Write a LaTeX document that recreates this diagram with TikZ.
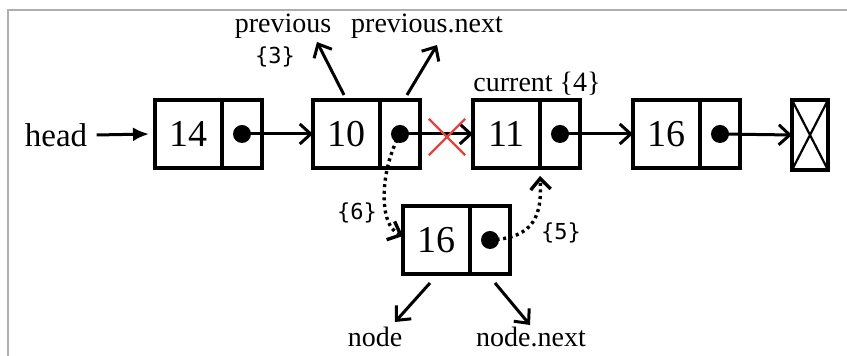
\documentclass[tikz,border=0pt]{standalone}
\usepackage{fontspec}
\setmainfont{Liberation Serif}
\newfontfamily\codefont{DejaVu Sans Mono}
\usetikzlibrary{arrows.meta,positioning,shapes.misc}
\definecolor{cutred}{RGB}{225,70,60}
\definecolor{framegray}{RGB}{175,175,175}

\begin{document}
\begin{tikzpicture}[x=0.5pt, y=-0.5pt,
  val/.style={draw, line width=1.6pt, outer sep=0pt, inner sep=0pt,
              minimum width=33.5pt, minimum height=34pt,
              font=\fontsize{19}{22}\selectfont},
  ptr/.style={draw, line width=1.6pt, outer sep=0pt, inner sep=0pt,
              minimum width=20pt, minimum height=34pt},
  nil/.style={draw, line width=1.6pt, outer sep=0pt, inner sep=0pt,
              minimum width=18pt, minimum height=35pt},
  lbl/.style={font=\fontsize{14}{16}\selectfont, inner sep=1pt},
  num/.style={font=\codefont\fontsize{11}{13}\selectfont, inner sep=1pt},
  arr/.style={-{Straight Barb[length=5.5pt,width=10pt]}, line width=1.5pt},
  dotarr/.style={-{Straight Barb[length=5.5pt,width=10pt]}, line width=1.7pt,
                 dash pattern=on 1.5pt off 1.8pt},
  dot/.style={circle, fill=black, minimum size=9pt, inner sep=0pt}
]
\useasboundingbox (0,0) rectangle (847,356);
\draw[framegray, line width=0.8pt] (847,10) -- (8,10) -- (8,356);

% main list
\node[val] (v14) at (188.5,134) {14};
\node[ptr, right=0pt of v14] (p14) {};
\node[val] (v10) at (346.5,134) {10};
\node[ptr, right=0pt of v10] (p10) {};
\node[val] (v11) at (506.5,134) {11};
\node[ptr, right=0pt of v11] (p11) {};
\node[val] (v16) at (666.5,134) {16};
\node[ptr, right=0pt of v16] (p16) {};
\node[nil] (null) at (810,135) {};
\draw[line width=1.1pt] (null.north west) -- (null.south east);
\draw[line width=1.1pt] (null.north east) -- (null.south west);

% new node
\node[val] (v16n) at (436.5,240) {16};
\node[ptr, right=0pt of v16n] (p16n) {};

\node[dot] (d14) at (p14.center) {};
\node[dot] (d10) at (p10.center) {};
\node[dot] (d11) at (p11.center) {};
\node[dot] (d16) at (p16.center) {};
\node[dot] (d16n) at (p16n.center) {};

% labels
\node[font=\fontsize{16.5}{18}\selectfont, inner sep=1pt] (head) at (56,135) {head};
\node[lbl] (prev) at (283,26) {previous};
\node[num] (s3) at (275,57) {\{3\}};
\node[lbl] (prevnext) at (427,26) {previous.next};
\node[lbl] (cur) at (537,84) {current \{4\}};
\node[num] (s6) at (357,213) {\{6\}};
\node[num] (s5) at (561,233) {\{5\}};
\node[lbl] (nd) at (375,337) {node};
\node[lbl] (ndnext) at (531,337) {node.next};

\coordinate (prevtip) at (317,42);
\coordinate (nexttip) at (437,45);
\coordinate (ndtip) at (395,322);
\coordinate (nexttip2) at (530,325);

% links
\draw[-{Latex[length=8pt,width=7pt]}, line width=1.5pt] (head.east) ++(7,0) -- ([xshift=-3pt]v14.west);
\draw[arr] (d14.center) -- (v10.west);
\draw[arr] (d10.center) -- (v11.west);
\draw[arr] (d11.center) -- (v16.west);
\draw[arr] (d16.center) -- (null.west);
\node[cross out, draw=cutred, line width=1.2pt, minimum size=17pt] (cut) at (447,137) {};

\draw[arr] (344,95) -- (prevtip);
\draw[arr] (407,95) -- (nexttip);
\draw[arr] (430,283) -- (ndtip);
\draw[arr] (495,283) -- (nexttip2);

\draw[dotarr] (d10.center) .. controls (380,170) and (378,225) .. ([yshift=2pt]v16n.west);
\draw[dotarr] (d16n.center) .. controls (535,238) and (542,215) .. ([yshift=-4pt]v11.south east);
\end{tikzpicture}
\end{document}
